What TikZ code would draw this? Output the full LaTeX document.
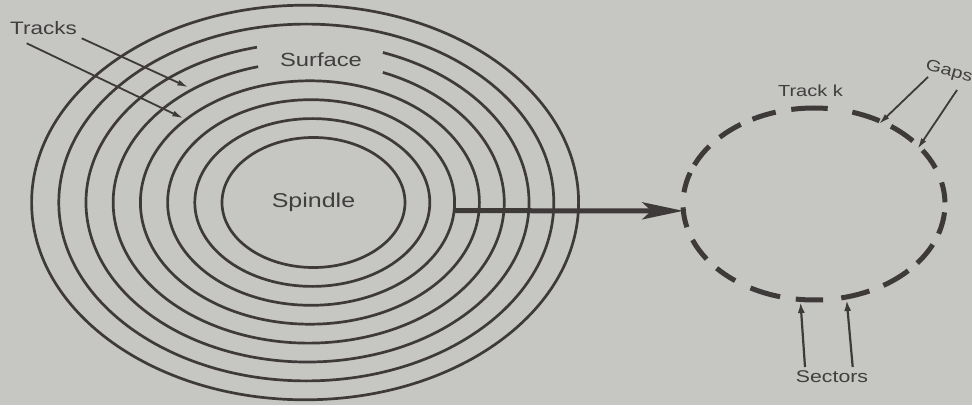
\documentclass[tikz,border=0pt]{standalone}
\usepackage{fontspec}
\setmainfont{Liberation Sans}
\newfontfamily\lblfont[FakeStretch=1.25]{Liberation Sans}
\usetikzlibrary{arrows.meta,shapes.geometric}
\definecolor{bg}{HTML}{C6C6C3}
\definecolor{ink}{HTML}{3E3A3A}
\definecolor{txt}{HTML}{403E3E}
\begin{document}
\begin{tikzpicture}[x=1pt,y=1pt,
  ring/.style={draw=ink, line width=2.7pt},
  dashseg/.style={draw=ink, line width=5pt},
  lbl/.style={text=txt, inner sep=0pt},
  thinarrow/.style={draw=ink, line width=1.8pt, -{Latex[length=11pt,width=6pt]}},
  secarrow/.style={draw=ink, line width=2.2pt, -{Latex[length=11pt,width=7pt]}},
  bigarrow/.style={draw=ink, line width=5pt, -{Stealth[length=41pt,width=17pt,inset=9pt]}}]
\fill[bg] (0,0) rectangle (972,405);
\useasboundingbox (0,0) rectangle (972,405);
% full rings
\foreach \i in {1,2,3,6,7} {
  \pgfmathsetmacro\cx{313.5-1.2*\i}
  \pgfmathsetmacro\rx{91.5+26*\i}
  \pgfmathsetmacro\ry{65+18.9*\i}
  \draw[ring] (\cx,202.5) ellipse [x radius=\rx, y radius=\ry];
}
% broken rings (gap for "Surface")
\draw[ring] ([shift={(308.7,202.5)}]105:195.5 and 140.6) arc[start angle=105, end angle=427.7, x radius=195.5, y radius=140.6];
\draw[ring] ([shift={(307.5,202.5)}]103.2:221.5 and 159.5) arc[start angle=103.2, end angle=430.1, x radius=221.5, y radius=159.5];
% spindle
\node[ellipse, draw=ink, line width=2.7pt, minimum width=183pt, minimum height=130pt, inner sep=0pt, outer sep=0pt, lbl, font=\lblfont\fontsize{20}{24}\selectfont] (spindle) at (313.5,202.5) {Spindle};
% labels
\node[lbl, font=\lblfont\fontsize{18}{22}\selectfont] (tracks) at (43.5,376.5) {Tracks};
\node[lbl, font=\lblfont\fontsize{19}{23}\selectfont] (surface) at (321,345.5) {Surface};
\node[lbl, font=\lblfont\fontsize{16}{20}\selectfont] (tracklbl) at (810.5,314) {Track k};
\node[lbl, rotate=-15, font=\lblfont\fontsize{16}{20}\selectfont] (gaps) at (949,333) {Gaps};
\node[lbl, font=\lblfont\fontsize{17}{21}\selectfont] (sectors) at (832,28) {Sectors};
% track k (dashed ellipse)
\node[ellipse, minimum width=262pt, minimum height=192pt, inner sep=0pt, outer sep=0pt] (trackk) at (814,201) {};
\foreach \a/\b in {161/173,182/194,202/215,222/233,241/255,262/274,282/295,302/316,322/335,342/355,1/13,22/34,41/54,60/73,84/100,107/118,124/136,143/156} {
  \draw[dashseg] ([shift={(814,201)}]\a:131 and 96) arc[start angle=\a, end angle=\b, x radius=131, y radius=96];
}
% coordinates for connector ends
\coordinate (t1s) at (81.7,366.7);
\coordinate (t1e) at (188.3,317.7);
\coordinate (t2s) at (26.7,361.7);
\coordinate (t2e) at (183.3,286.7);
\coordinate (bstart) at (454,194.3);
\coordinate (g1s) at (928,328);
\coordinate (g1e) at (879,281);
\coordinate (g2s) at (957,315);
\coordinate (g2e) at (917.5,256);
\coordinate (s1s) at (805,38);
\coordinate (s1e) at (800.5,103);
\coordinate (s2s) at (852.7,38);
\coordinate (s2e) at (846.7,105);
% connectors
\draw[thinarrow] (t1s) -- (t1e);
\draw[thinarrow] (t2s) -- (t2e);
\draw[bigarrow] (bstart) -- (trackk.183);
\draw[thinarrow] (g1s) -- (g1e);
\draw[thinarrow] (g2s) -- (g2e);
\draw[secarrow] (s1s) -- (s1e);
\draw[secarrow] (s2s) -- (s2e);
\end{tikzpicture}
\end{document}
